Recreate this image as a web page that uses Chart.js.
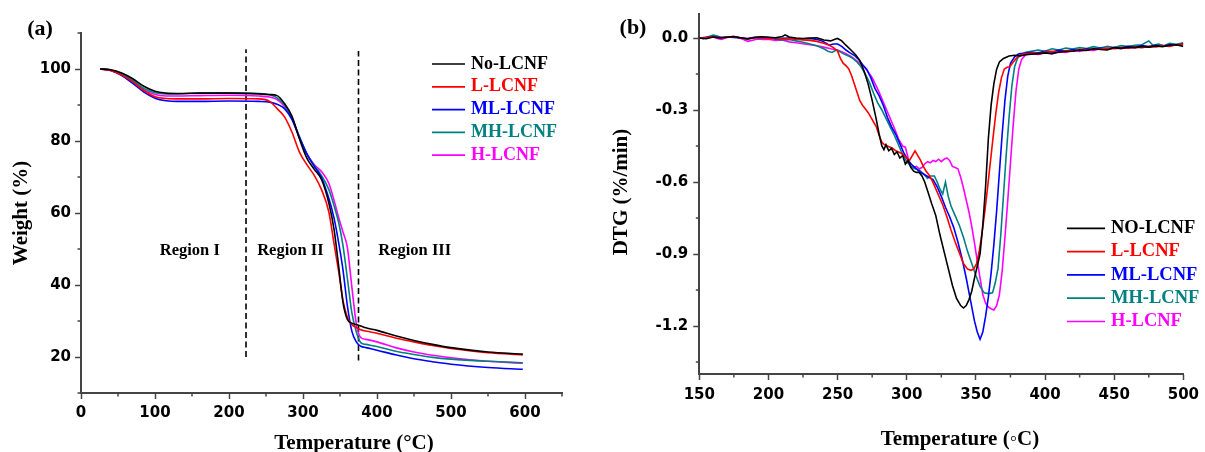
<!DOCTYPE html>
<html>
<head>
<meta charset="utf-8">
<script src="https://cdn.jsdelivr.net/npm/chart.js@4.4.1/dist/chart.umd.min.js"></script>
<style>
  body { margin: 0; background: #fff; }
  #fig { position: relative; width: 1205px; height: 452px; overflow: hidden; background: #fff; }
  canvas { position: absolute; top: 0; }
  #tga { left: 0; }
  #dtg { left: 600px; }
  .cap {
    position: absolute; white-space: nowrap; color: #000; line-height: 1;
    font: bold 21px "Liberation Serif", "Times New Roman", serif;
    transform: translate(-50%, -50%);
  }
  .cap.v { transform: translate(-50%, -50%) rotate(-90deg); }
  .tag { font-size: 22px; }
</style>
</head>
<body>
<div id="fig">
  <canvas id="tga" width="600" height="452"></canvas>
  <canvas id="dtg" width="605" height="452"></canvas>
  <div class="cap tag" style="left:40px;top:28px">(a)</div>
  <div class="cap tag" style="left:633px;top:27px">(b)</div>
  <div class="cap v" style="left:20px;top:213px">Weight (%)</div>
  <div class="cap" style="left:354px;top:442px">Temperature (°C)</div>
  <div class="cap v" style="left:620px;top:192px">DTG (%/min)</div>
  <div class="cap" style="left:960px;top:438px">Temperature (◦C)</div>
</div>
<script>
'use strict';

/* ---------- (a) TGA: weight vs temperature ---------- */
const tgaTemp = [26, 40, 55, 70, 85, 100, 115, 130, 160, 200, 240, 255, 265, 275, 285, 295, 305, 315,
  325, 335, 342, 348, 354, 360, 366, 372, 378, 385, 400, 425, 450, 475, 500, 550, 597];
const tgaNo = [100, 99.8, 98.9, 97.3, 95.2, 93.8, 93.3, 93.2, 93.3, 93.3, 93.1, 92.9, 92.6, 90.4, 86.9, 80.7, 75.3, 72.2,
  69.3, 62.7, 55.4, 45.6, 35.2, 30.4, 29.4, 29.0, 28.6, 28.1, 27.4, 25.9, 24.6, 23.5, 22.6, 21.4, 20.8];
const tgaL = [100, 99.6, 98.3, 96.4, 94.0, 92.3, 91.8, 91.7, 91.7, 91.8, 91.7, 91.0, 89.0, 86.7, 82.5, 77.0, 73.5, 70.5,
  66.5, 60.2, 51.4, 44.0, 35.8, 31.0, 29.0, 28.2, 27.6, 27.2, 26.6, 25.3, 24.2, 23.2, 22.4, 21.2, 20.6];
const tgaML = [100, 99.6, 98.2, 96.0, 93.6, 91.9, 91.2, 91.0, 91.0, 91.1, 91.0, 90.8, 90.2, 89.0, 86.0, 81.0, 76.5, 73.0,
  69.8, 64.0, 58.5, 52.0, 44.3, 34.2, 27.2, 24.2, 23.0, 22.6, 21.9, 20.6, 19.5, 18.7, 18.0, 17.1, 16.6];
const tgaMH = [100, 99.7, 98.6, 96.8, 94.6, 93.4, 93.1, 93.1, 93.3, 93.4, 93.2, 92.8, 92.0, 90.0, 86.5, 81.3, 76.5, 73.3,
  70.4, 66.5, 62.0, 57.5, 51.0, 41.8, 32.3, 27.0, 24.0, 23.5, 22.9, 21.6, 20.7, 19.9, 19.4, 18.8, 18.4];
const tgaH = [100, 99.7, 98.4, 96.5, 94.2, 92.9, 92.5, 92.5, 92.6, 92.7, 92.5, 92.2, 91.5, 89.6, 86.2, 81.2, 76.5, 73.5,
  71.5, 68.2, 63.5, 58.9, 54.7, 50.4, 39.5, 29.3, 25.4, 24.9, 24.2, 22.6, 21.4, 20.5, 19.8, 18.8, 18.3];

const tgaTempTicks   = [0, 100, 200, 300, 400, 500, 600];
const tgaWeightTicks = [20, 40, 60, 80, 100];

/* region boundaries (dashed) and region names */
const dividerTemp   = [223, 375];
const dividerBottom = [20, 19];
const dividerTop    = [105.5, 105];
const regionNames   = ['Region I', 'Region II', 'Region III'];
const regionTemp    = [147, 283, 451];
const regionWeight  = [49.6, 49.6, 49.6];

/* ---------- (b) DTG: [temperature, rate] ---------- */
const dtgNo = [[150,0],[155,-0.003],[160,0.004],[165,0],[170,0.003],[175,0.006],[180,0.001],[185,-0.004],[190,0.002],
  [195,0.005],[200,0.003],[205,0.001],[210,0.006],[212,0.013],[215,0.004],[220,0],[225,-0.002],[230,0],[235,0.001],
  [240,-0.008],[245,-0.012],[248,-0.005],[250,-0.002],[253,-0.012],[256,-0.03],[260,-0.052],[263,-0.07],[266,-0.093],
  [269,-0.135],[272,-0.19],[275,-0.26],[278,-0.34],[280,-0.4],[282,-0.45],[283.5,-0.465],[285,-0.445],[287,-0.47],
  [289,-0.46],[291,-0.485],[293,-0.475],[295,-0.5],[297,-0.49],[299,-0.525],[301,-0.51],[303,-0.54],[305,-0.555],
  [307,-0.56],[309,-0.56],[311,-0.575],[313,-0.6],[315,-0.635],[318,-0.69],[321,-0.74],[324,-0.82],[327,-0.89],
  [330,-0.96],[333,-1.03],[336,-1.085],[339,-1.115],[341,-1.125],[343,-1.115],[345,-1.09],[347,-1.055],[349,-1.0],
  [351,-0.95],[353,-0.9],[355,-0.78],[357,-0.62],[359,-0.42],[361,-0.28],[363,-0.19],[365,-0.13],[367,-0.1],
  [370,-0.085],[374,-0.075],[378,-0.072],[382,-0.075],[386,-0.07],[390,-0.068],[395,-0.065],[400,-0.062],[405,-0.065],
  [410,-0.058],[415,-0.056],[420,-0.055],[425,-0.05],[430,-0.052],[435,-0.045],[440,-0.048],[445,-0.05],[450,-0.04],
  [455,-0.043],[460,-0.038],[465,-0.04],[470,-0.035],[475,-0.038],[480,-0.033],[485,-0.036],[490,-0.03],[495,-0.028],
  [500,-0.035]];
const dtgL = [[150,0],[155,0.002],[160,0.005],[165,0.001],[170,0.004],[175,0.006],[180,0],[185,-0.003],[190,0.002],
  [195,0.001],[200,-0.003],[205,0],[210,-0.004],[215,-0.002],[220,-0.005],[225,-0.008],[230,-0.01],[235,-0.014],
  [240,-0.022],[244,-0.03],[247,-0.04],[250,-0.055],[252,-0.085],[254,-0.105],[256,-0.115],[258,-0.128],[260,-0.155],
  [262,-0.19],[264,-0.225],[266,-0.26],[268,-0.28],[270,-0.295],[272,-0.31],[274,-0.33],[276,-0.35],[278,-0.37],
  [280,-0.405],[282,-0.435],[284,-0.445],[286,-0.45],[288,-0.455],[290,-0.46],[292,-0.47],[294,-0.475],[296,-0.48],
  [298,-0.49],[300,-0.5],[302,-0.51],[304,-0.49],[306,-0.47],[308,-0.49],[310,-0.51],[312,-0.535],[314,-0.555],
  [316,-0.57],[318,-0.59],[320,-0.615],[323,-0.655],[326,-0.695],[329,-0.745],[332,-0.8],[335,-0.85],[338,-0.895],
  [341,-0.94],[344,-0.963],[346.5,-0.968],[348.5,-0.962],[350.5,-0.94],[352.5,-0.885],[354.5,-0.81],[356.5,-0.72],
  [358.5,-0.62],[360.5,-0.515],[362.5,-0.41],[364.5,-0.31],[366.5,-0.225],[368.5,-0.165],[370.5,-0.13],[372.5,-0.122],
  [374.5,-0.12],[377,-0.1],[380,-0.08],[384,-0.067],[388,-0.065],[392,-0.062],[396,-0.065],[400,-0.058],[405,-0.055],
  [410,-0.06],[415,-0.052],[420,-0.055],[425,-0.048],[430,-0.05],[435,-0.045],[440,-0.047],[445,-0.042],[450,-0.045],
  [455,-0.04],[460,-0.042],[465,-0.038],[470,-0.04],[475,-0.035],[480,-0.037],[485,-0.032],[490,-0.035],[495,-0.028],
  [500,-0.025]];
const dtgML = [[150,0],[155,0.003],[160,0.006],[165,0.002],[170,0.004],[175,0.002],[180,0],[185,-0.002],[190,0.003],
  [195,0.004],[200,0.002],[205,-0.003],[210,-0.001],[215,0],[220,-0.004],[225,-0.003],[230,-0.002],[235,-0.006],
  [238,-0.01],[241,-0.02],[244,-0.03],[247,-0.025],[250,-0.025],[253,-0.035],[256,-0.05],[259,-0.062],[262,-0.072],
  [265,-0.088],[268,-0.11],[271,-0.13],[274,-0.165],[277,-0.21],[280,-0.24],[283,-0.28],[286,-0.33],[289,-0.37],
  [292,-0.4],[295,-0.44],[298,-0.48],[301,-0.51],[304,-0.53],[307,-0.545],[310,-0.56],[313,-0.57],[316,-0.58],
  [319,-0.59],[322,-0.62],[325,-0.66],[328,-0.705],[331,-0.745],[334,-0.79],[337,-0.85],[340,-0.92],[343,-1.0],
  [346,-1.09],[349,-1.18],[351,-1.225],[353,-1.255],[355,-1.225],[357,-1.16],[359,-1.08],[361,-0.98],[363,-0.86],
  [365,-0.72],[367,-0.56],[369,-0.4],[371,-0.26],[373,-0.16],[375,-0.105],[378,-0.078],[381,-0.066],[385,-0.064],
  [390,-0.06],[395,-0.062],[400,-0.055],[405,-0.058],[410,-0.05],[415,-0.054],[420,-0.048],[425,-0.052],[430,-0.045],
  [435,-0.048],[440,-0.042],[445,-0.046],[450,-0.04],[455,-0.042],[460,-0.035],[465,-0.038],[470,-0.032],[475,-0.036],
  [480,-0.03],[485,-0.034],[490,-0.028],[495,-0.03],[500,-0.025]];
const dtgMH = [[150,0],[153,-0.003],[157,0.006],[160,0.012],[163,0.008],[167,0],[170,0.004],[175,0.005],[180,0],
  [185,-0.004],[190,0.001],[195,-0.002],[200,0.002],[205,-0.004],[210,-0.008],[215,-0.006],[220,-0.012],[225,-0.018],
  [230,-0.025],[235,-0.032],[240,-0.045],[243,-0.055],[246,-0.06],[249,-0.05],[252,-0.058],[255,-0.068],[258,-0.075],
  [261,-0.085],[264,-0.1],[267,-0.12],[270,-0.15],[273,-0.185],[276,-0.23],[279,-0.27],[282,-0.3],[285,-0.335],
  [288,-0.37],[291,-0.405],[294,-0.445],[297,-0.485],[300,-0.515],[303,-0.535],[306,-0.545],[309,-0.55],[312,-0.565],
  [315,-0.585],[317,-0.575],[320,-0.575],[322,-0.6],[324,-0.63],[326,-0.65],[328,-0.6],[330,-0.66],[332,-0.7],
  [335,-0.74],[338,-0.78],[341,-0.83],[344,-0.89],[347,-0.94],[350,-0.99],[353,-1.035],[356,-1.062],[359,-1.065],
  [362,-1.062],[364,-1.02],[366,-0.96],[368,-0.82],[370,-0.65],[372,-0.48],[374,-0.33],[376,-0.2],[378,-0.12],
  [380,-0.085],[383,-0.065],[386,-0.06],[390,-0.055],[395,-0.05],[400,-0.055],[405,-0.045],[410,-0.05],[415,-0.042],
  [420,-0.046],[425,-0.04],[430,-0.044],[435,-0.036],[440,-0.042],[445,-0.035],[450,-0.04],[455,-0.032],[460,-0.036],
  [465,-0.03],[470,-0.028],[475,-0.012],[478,-0.03],[482,-0.025],[486,-0.032],[490,-0.022],[495,-0.026],[500,-0.02]];
const dtgH = [[150,0],[153,-0.002],[156,0.003],[160,0.004],[163,-0.002],[166,-0.006],[170,0.002],[174,0.006],
  [178,0.002],[182,-0.006],[185,-0.014],[188,-0.01],[192,-0.004],[196,-0.006],[200,-0.005],[205,-0.01],[210,-0.008],
  [215,-0.016],[220,-0.02],[225,-0.024],[230,-0.028],[235,-0.032],[240,-0.038],[245,-0.045],[250,-0.05],[255,-0.062],
  [260,-0.078],[265,-0.1],[270,-0.125],[275,-0.165],[280,-0.225],[284,-0.28],[288,-0.335],[291,-0.375],[294,-0.42],
  [297,-0.45],[299,-0.455],[301,-0.5],[303,-0.535],[305,-0.54],[307,-0.535],[309,-0.545],[311,-0.54],[313,-0.525],
  [315,-0.515],[317,-0.52],[319,-0.51],[321,-0.515],[323,-0.505],[325,-0.515],[327,-0.505],[329,-0.5],[331,-0.51],
  [333,-0.535],[335,-0.54],[337,-0.545],[339,-0.58],[341,-0.625],[343,-0.675],[345,-0.725],[347,-0.785],[349,-0.855],
  [351,-0.93],[353,-1.0],[355,-1.07],[357,-1.105],[359,-1.12],[361,-1.128],[363,-1.133],[365,-1.115],[367,-1.07],
  [369,-0.97],[371,-0.83],[373,-0.68],[375,-0.52],[377,-0.36],[379,-0.22],[381,-0.13],[383,-0.09],[386,-0.07],
  [390,-0.065],[395,-0.068],[400,-0.062],[405,-0.065],[410,-0.058],[415,-0.06],[420,-0.052],[425,-0.056],[430,-0.05],
  [435,-0.052],[440,-0.045],[445,-0.048],[450,-0.042],[455,-0.045],[460,-0.038],[465,-0.04],[470,-0.035],[475,-0.038],
  [480,-0.032],[485,-0.034],[490,-0.028],[495,-0.03],[500,-0.022]];

const dtgTempTicks = [150, 200, 250, 300, 350, 400, 450, 500];
const dtgRateTicks = [0, -0.3, -0.6, -0.9, -1.2];

/* sample names and colours */
const tgaNames = ['No-LCNF', 'L-LCNF', 'ML-LCNF', 'MH-LCNF', 'H-LCNF'];
const dtgNames = ['NO-LCNF', 'L-LCNF', 'ML-LCNF', 'MH-LCNF', 'H-LCNF'];
const colors   = ['#000000', '#ff0000', '#0000ff', '#008080', '#ff00ff'];

const AXIS = '#444';
const TICK_FONT = { family: '"DejaVu Sans", sans-serif', size: 15, weight: 'bold' };
const SERIF = '"Liberation Serif", "Times New Roman", serif';

/* short ticks halfway between the labelled ones */
const minorTicks = {
  id: 'minorTicks',
  afterDraw(chart, args, o) {
    const { ctx } = chart;
    ctx.save();
    ctx.strokeStyle = AXIS;
    ctx.lineWidth = 1.5;
    Object.entries(o.steps).forEach(([id, step]) => {
      const s = chart.scales[id];
      const k0 = Math.ceil(s.min / step - 1e-6), k1 = Math.floor(s.max / step + 1e-6);
      for (let k = k0; k <= k1; k++) {
        if (Math.abs(k % 2) !== 1) continue;
        const p = s.getPixelForValue(k * step);
        ctx.beginPath();
        if (s.isHorizontal()) { ctx.moveTo(p, s.top); ctx.lineTo(p, s.top + o.length); }
        else { ctx.moveTo(s.right, p); ctx.lineTo(s.right - o.length, p); }
        ctx.stroke();
      }
    });
    ctx.restore();
  },
};

/* legend drawn inside the plot area */
const insetLegend = {
  id: 'insetLegend',
  afterDraw(chart, args, o) {
    const { ctx } = chart;
    ctx.save();
    ctx.font = `bold ${o.size}px ${SERIF}`;
    ctx.textAlign = 'left';
    ctx.textBaseline = 'middle';
    chart.data.datasets.filter(d => d.label).forEach((d, i) => {
      const y = o.top + i * o.rowHeight;
      ctx.strokeStyle = d.borderColor;
      ctx.lineWidth = 1.7;
      ctx.beginPath();
      ctx.moveTo(o.left, y);
      ctx.lineTo(o.left + o.lineLength, y);
      ctx.stroke();
      ctx.fillStyle = d.borderColor;
      ctx.fillText(d.label, o.left + o.lineLength + 6, y);
    });
    ctx.restore();
  },
};

/* region captions placed in data coordinates */
const regionLabels = {
  id: 'regionLabels',
  afterDraw(chart) {
    const { ctx, scales: { x, y } } = chart;
    ctx.save();
    ctx.font = `bold 16.5px ${SERIF}`;
    ctx.fillStyle = '#000';
    ctx.textAlign = 'center';
    ctx.textBaseline = 'middle';
    regionNames.forEach((t, i) => ctx.fillText(t, x.getPixelForValue(regionTemp[i]), y.getPixelForValue(regionWeight[i])));
    ctx.restore();
  },
};

function axis(min, max, majors, fmt, fit, pad) {
  return {
    type: 'linear', min, max,
    afterBuildTicks: s => { s.ticks = majors.map(v => ({ value: v })); },
    afterFit: fit,
    border: { display: true, color: AXIS, width: 2 },
    grid: { drawOnChartArea: false, drawTicks: true, tickLength: 6, tickWidth: 1.5, tickColor: AXIS },
    ticks: { color: '#000', padding: pad, font: TICK_FONT, callback: fmt, maxRotation: 0, autoSkip: false },
  };
}

function series(label, color, data, smooth) {
  return {
    label, data,
    borderColor: color,
    borderWidth: 1.6,
    pointRadius: 0,
    fill: false,
    tension: smooth ? 0.4 : 0,
    cubicInterpolationMode: smooth ? 'monotone' : 'default',
  };
}

const tgaSets = [tgaNo, tgaL, tgaML, tgaMH, tgaH].map((vals, i) =>
  series(tgaNames[i], colors[i], vals.map((w, j) => ({ x: tgaTemp[j], y: w })), true));

dividerTemp.forEach((t, i) => tgaSets.push({
  label: '',
  data: [{ x: t, y: dividerBottom[i] }, { x: t, y: dividerTop[i] }],
  borderColor: '#000', borderWidth: 1.6, borderDash: [6, 3.5], pointRadius: 0, fill: false,
}));

new Chart(document.getElementById('tga'), {
  type: 'line',
  data: { datasets: tgaSets },
  plugins: [minorTicks, insetLegend, regionLabels],
  options: {
    responsive: false,
    animation: false,
    layout: { padding: { left: 0, right: 38, top: 33, bottom: 0 } },
    scales: {
      x: axis(0, 650, tgaTempTicks, v => String(v), s => { s.height = 59; }, 5),
      y: axis(10, 110, tgaWeightTicks, v => String(v), s => { s.width = 81; }, 4),
    },
    plugins: {
      legend: { display: false },
      tooltip: { enabled: false },
      minorTicks: { steps: { x: 50, y: 10 }, length: 3.5 },
      insetLegend: { left: 432, top: 64, rowHeight: 22.8, lineLength: 33, size: 18 },
    },
  },
});

const dtgSets = [dtgNo, dtgL, dtgML, dtgMH, dtgH].map((pts, i) =>
  series(dtgNames[i], colors[i], pts.map(([t, r]) => ({ x: t, y: r })), false));

new Chart(document.getElementById('dtg'), {
  type: 'line',
  data: { datasets: dtgSets },
  plugins: [minorTicks, insetLegend],
  options: {
    responsive: false,
    animation: false,
    layout: { padding: { left: 0, right: 15, top: 8, bottom: 0 } },
    scales: {
      x: axis(150, 500, dtgTempTicks, v => String(v), s => { s.height = 78; }, 6),
      y: axis(-1.4, 0.1, dtgRateTicks, v => v.toFixed(1), s => { s.width = 99.3; }, 5),
    },
    plugins: {
      legend: { display: false },
      tooltip: { enabled: false },
      minorTicks: { steps: { x: 25, y: 0.15 }, length: 3.5 },
      insetLegend: { left: 467, top: 228.3, rowHeight: 23.3, lineLength: 38, size: 18.5 },
    },
  },
});
</script>
</body>
</html>
